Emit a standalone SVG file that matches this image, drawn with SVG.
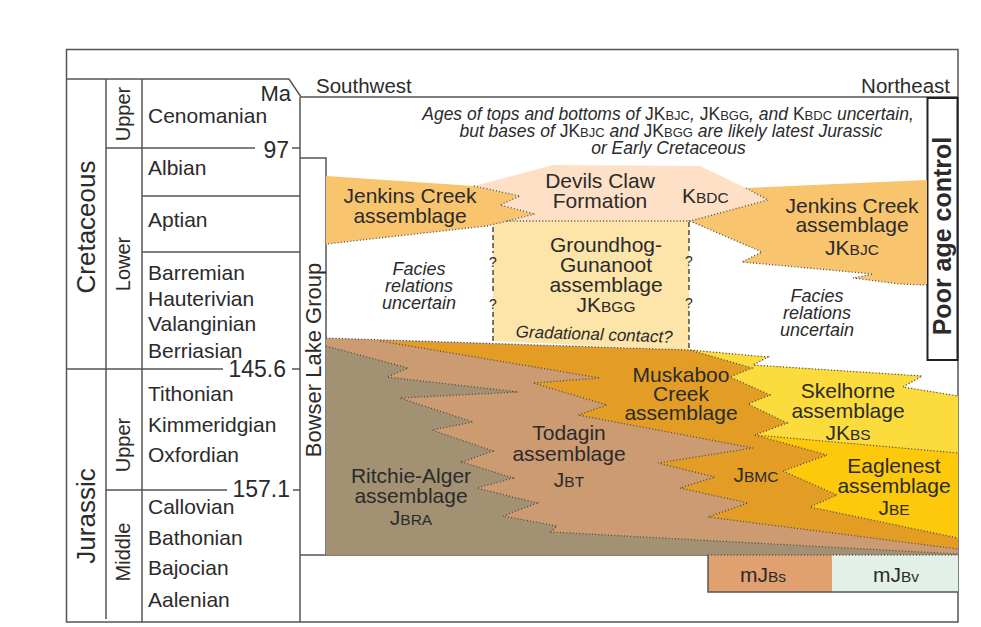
<svg xmlns="http://www.w3.org/2000/svg" width="981" height="627" viewBox="0 0 981 627">
<style>
text{font-family:"Liberation Sans",Arial,sans-serif;fill:#2b2b2b}
.st{font-size:21px}
.num{font-size:23px;text-anchor:end}
.per{font-size:26px;text-anchor:middle}
.ep{font-size:20px;text-anchor:middle}
.lab{font-size:21px;text-anchor:middle}
.sc{font-size:15.5px}
.it{font-size:18px;font-style:italic;text-anchor:middle}
.note{font-size:17.5px;font-style:italic;text-anchor:middle}
.up{font-style:normal}
.nsc{font-style:normal;font-size:13px}
.q{font-size:14px;text-anchor:middle}
.fr{fill:none;stroke:#555;stroke-width:1.5}
.dot{fill:none;stroke:#4a4a4a;stroke-width:1.3;stroke-dasharray:1 2.2}
.dash{fill:none;stroke:#333;stroke-width:1.3;stroke-dasharray:5 3}
</style>
<rect x="0" y="0" width="981" height="627" fill="#fff"/>

<g id="frame">
<rect x="66.5" y="49.5" width="891.5" height="572.5" class="fr"/>
<path class="fr" d="M66,79 H289 L301,97 H958"/>
<path class="fr" d="M106,79 V619 M142,79 V622 M300,97 V622"/>
<path class="fr" d="M106,148 H255 M292,148 H300 M142,196 H300 M142,252 H300 M66,369 H223 M292,369 H300 M106,490 H227 M293,490 H300"/>
<path class="fr" d="M300,158 H326 V555 M300,555 H958"/>
</g>

<g id="timescale">
<text class="per" transform="translate(95,227) rotate(-90)">Cretaceous</text>
<text class="per" transform="translate(95,516) rotate(-90)">Jurassic</text>
<text class="ep" transform="translate(130,114) rotate(-90)">Upper</text>
<text class="ep" transform="translate(130,264) rotate(-90)">Lower</text>
<text class="ep" transform="translate(130,445) rotate(-90)">Upper</text>
<text class="ep" transform="translate(130,552) rotate(-90)">Middle</text>
<text class="st" x="148" y="123">Cenomanian</text>
<text class="st" x="148" y="175">Albian</text>
<text class="st" x="148" y="227">Aptian</text>
<text class="st" x="148" y="280">Barremian</text>
<text class="st" x="148" y="306">Hauterivian</text>
<text class="st" x="148" y="331">Valanginian</text>
<text class="st" x="148" y="358">Berriasian</text>
<text class="st" x="148" y="401">Tithonian</text>
<text class="st" x="148" y="432">Kimmeridgian</text>
<text class="st" x="148" y="462">Oxfordian</text>
<text class="st" x="148" y="514">Callovian</text>
<text class="st" x="148" y="545">Bathonian</text>
<text class="st" x="148" y="575">Bajocian</text>
<text class="st" x="148" y="607">Aalenian</text>
<text class="num" x="291" y="101" style="font-size:22px">Ma</text>
<text class="num" x="289" y="158">97</text>
<text class="num" x="286" y="377">145.6</text>
<text class="num" x="290" y="497">157.1</text>
</g>

<g id="bowser-lake-group">
<text transform="translate(321,360) rotate(-90)" style="font-size:22px;text-anchor:middle">Bowser Lake Group</text>
</g>

<g id="headers">
<text x="316" y="93" style="font-size:20.5px">Southwest</text>
<text x="950" y="93" style="font-size:20.5px;text-anchor:end">Northeast</text>
<text class="note" x="668" y="120">Ages of tops and bottoms of <tspan class="up">JK</tspan><tspan class="nsc">BJC</tspan>, <tspan class="up">JK</tspan><tspan class="nsc">BGG</tspan>, and <tspan class="up">K</tspan><tspan class="nsc">BDC</tspan> uncertain,</text>
<text class="note" x="671" y="137">but bases of <tspan class="up">JK</tspan><tspan class="nsc">BJC</tspan> and <tspan class="up">JK</tspan><tspan class="nsc">BGG</tspan> are likely latest Jurassic</text>
<text class="note" x="668.5" y="154">or Early Cretaceous</text>
</g>

<g id="poor-age-control">
<rect x="927.5" y="98" width="30" height="262" fill="#fff" stroke="#222" stroke-width="2"/>
<text transform="translate(951,236) rotate(-90)" style="font-size:25px;font-weight:bold;text-anchor:middle">Poor age control</text>
</g>

<g id="groundhog-gunanoot">
<polygon points="493,221 689,221 689,350 493,341" fill="#fde4a8"/>
<text class="lab" x="606" y="252">Groundhog-</text>
<text class="lab" x="606" y="272">Gunanoot</text>
<text class="lab" x="606" y="292">assemblage</text>
<text class="lab" x="606" y="312">JK<tspan class="sc">BGG</tspan></text>
<text transform="translate(594,340) rotate(2)" style="font-size:17px;font-style:italic;text-anchor:middle">Gradational contact?</text>
</g>

<g id="jenkins-creek-sw">
<polygon points="326,176 474,186 520,196 500,205 535,214 487,226 326,244" fill="#f9c46e"/>
<text class="lab" x="410" y="203">Jenkins Creek</text>
<text class="lab" x="410" y="223">assemblage</text>
</g>

<g id="devils-claw">
<polygon points="474,186 553,165 700,166 746,188 768,200 690,221 507,221 535,214 500,205 520,196" fill="#fde0c6"/>
<text class="lab" x="600" y="188">Devils Claw</text>
<text class="lab" x="600" y="208">Formation</text>
<text x="682" y="203" style="font-size:21px">K<tspan class="sc">BDC</tspan></text>
</g>

<g id="jenkins-creek-ne">
<polygon points="746,188 927,180 927,285 900,284 853,278 873,274 742,262 762,252 690,221 768,200" fill="#f9c46e"/>
<text class="lab" x="852" y="213">Jenkins Creek</text>
<text class="lab" x="852" y="232">assemblage</text>
<text class="lab" x="852" y="255">JK<tspan class="sc">BJC</tspan></text>
</g>

<g id="facies-sw">
<text class="it" x="419" y="275">Facies</text>
<text class="it" x="419" y="292">relations</text>
<text class="it" x="419" y="309">uncertain</text>
</g>
<g id="facies-ne">
<text class="it" x="817" y="302">Facies</text>
<text class="it" x="817" y="319">relations</text>
<text class="it" x="817" y="336">uncertain</text>
</g>

<g id="todagin">
<polygon points="326,338 690,350 768,357 753,365 922,376 903,387 958,396 958,555 326,555" fill="#cc9b72"/>
<text class="lab" x="569" y="440">Todagin</text>
<text class="lab" x="569" y="461">assemblage</text>
<text class="lab" x="569" y="487">J<tspan class="sc">BT</tspan></text>
</g>

<g id="ritchie-alger">
<polygon points="326,346 408,368 387,377 518,392 400,398 473,422 432,430 493,451 462,462 513,478 477,488 537,503 503,516 557,526 551,532 958,554 958,555 326,555" fill="#a29273"/>
<text class="lab" x="411" y="483">Ritchie-Alger</text>
<text class="lab" x="411" y="503">assemblage</text>
<text class="lab" x="411" y="525">J<tspan class="sc">BRA</tspan></text>
</g>

<g id="muskaboo-creek">
<polygon points="380,341 690,350 752,368 730,377 770,395 748,404 787,423 755,435 827,455 783,471 837,495 810,507 958,538 958,549 708,517 748,503 680,488 715,477 658,463 753,448 578,415 607,405 533,383 600,378" fill="#e39d25"/>
<text class="lab" x="681" y="382">Muskaboo</text>
<text class="lab" x="681" y="401">Creek</text>
<text class="lab" x="681" y="420">assemblage</text>
<text class="lab" x="756" y="482">J<tspan class="sc">BMC</tspan></text>
</g>

<g id="skelhorne">
<polygon points="690,350 768,357 753,365 922,376 903,387 958,396 958,453 755,435 787,423 748,404 770,395 730,377 752,368" fill="#fcdc3c"/>
<text class="lab" x="848" y="398">Skelhorne</text>
<text class="lab" x="848" y="418">assemblage</text>
<text class="lab" x="848" y="440">JK<tspan class="sc">BS</tspan></text>
</g>

<g id="eaglenest">
<polygon points="755,435 958,453 958,538 810,507 837,495 783,471 827,455" fill="#fdc90a"/>
<text class="lab" x="894" y="473">Eaglenest</text>
<text class="lab" x="894" y="493">assemblage</text>
<text class="lab" x="894" y="515">J<tspan class="sc">BE</tspan></text>
</g>

<g id="mjbs">
<rect x="708" y="555" width="124" height="37" fill="#e0a070"/>
<text class="lab" x="763" y="582">mJ<tspan class="sc">Bs</tspan></text>
</g>
<g id="mjbv">
<rect x="832" y="555" width="126" height="37" fill="#e3f0e7"/>
<text class="lab" x="896" y="582">mJ<tspan class="sc">Bv</tspan></text>
</g>
<path class="fr" d="M708,555 V592 H958"/>

<g id="contacts">
<polyline class="dot" points="326,338 690,350 768,357 753,365 922,376 903,387 958,396"/>
<polyline class="dot" points="326,346 408,368 387,377 518,392 400,398 473,422 432,430 493,451 462,462 513,478 477,488 537,503 503,516 557,526 551,532 958,554"/>
<polyline class="dot" points="380,341 600,378 533,383 607,405 578,415 753,448 658,463 715,477 680,488 748,503 708,517 958,549"/>
<polyline class="dot" points="690,350 752,368 730,377 770,395 748,404 787,423 755,435 958,453"/>
<polyline class="dot" points="755,435 827,455 783,471 837,495 810,507 958,538"/>
<polyline class="dot" points="474,186 520,196 500,205 535,214 487,226 326,244"/>
<polyline class="dot" points="507,221 690,221"/>
<polyline class="dot" points="746,188 768,200 690,221 762,252 742,262 873,274 853,278 900,284 927,285"/>
<polyline class="dot" points="708,555 958,555"/>
<path class="dash" d="M493,227 V253 M493,270 V294 M493,312 V341 M689,222 V252 M689,269 V292 M689,311 V350"/>
<text class="q" x="493" y="267">?</text>
<text class="q" x="493" y="309">?</text>
<text class="q" x="689" y="266">?</text>
<text class="q" x="689" y="308">?</text>
</g>
</svg>
